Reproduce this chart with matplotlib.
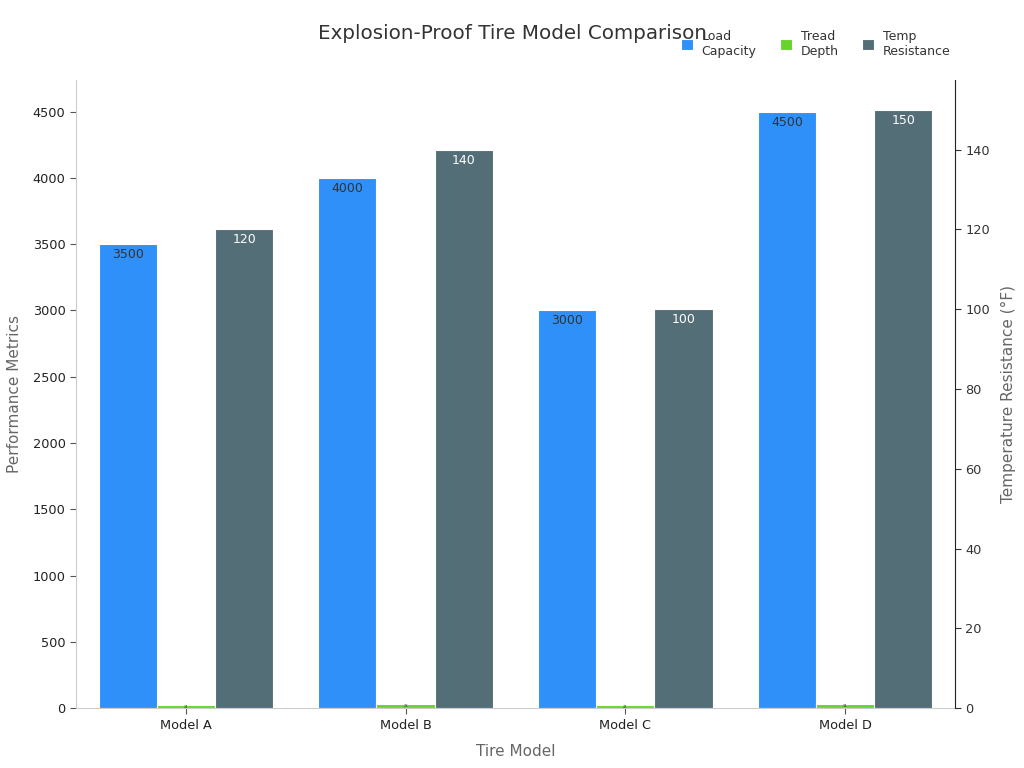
import matplotlib
matplotlib.use("Agg")
import matplotlib.pyplot as plt
import numpy as np

models = ["Model A", "Model B", "Model C", "Model D"]
load_capacity = [3500, 4000, 3000, 4500]
tread_depth = [24, 28, 23, 34]
temp_resistance = [120, 140, 100, 150]

c_blue = "#2E90F8"
c_green = "#66D42C"
c_gray = "#546E78"

fig = plt.figure(figsize=(10.24, 7.68), dpi=100)
ax = fig.add_axes([0.0742, 0.078, 0.8584, 0.818])
ax2 = ax.twinx()

x = np.arange(len(models))
w = 0.265

b1 = ax.bar(x - w, load_capacity, w, color=c_blue, edgecolor="white", linewidth=0.8, label="Load\nCapacity", zorder=2)
b2 = ax.bar(x, tread_depth, w, color=c_green, edgecolor="white", linewidth=0.8, label="Tread\nDepth", zorder=2)
b3 = ax2.bar(x + w, temp_resistance, w, color=c_gray, edgecolor="white", linewidth=0.8, label="Temp\nResistance", zorder=2)

ax.set_xlim(-0.5, 3.5)
ax.set_ylim(0, 4740)
ax2.set_ylim(0, 157.5)
ax.set_yticks(np.arange(0, 4501, 500))
ax2.set_yticks(np.arange(0, 141, 20))
ax.set_xticks(x)
ax.set_xticklabels(models)

for a in (ax, ax2):
    a.tick_params(labelsize=9.3, colors="#333333", length=4)
    a.spines["top"].set_visible(False)
ax.spines["left"].set_color("#CCCCCC")
ax.spines["bottom"].set_color("#CCCCCC")
ax.spines["right"].set_visible(False)
ax2.spines["left"].set_visible(False)
ax2.spines["bottom"].set_visible(False)
ax2.spines["right"].set_color("#222222")
ax.tick_params(axis="x", colors="#555555", labelcolor="#222222")
ax.tick_params(axis="y", colors="#555555", labelcolor="#222222")

ax.set_xlabel("Tire Model", fontsize=11, color="#666666", labelpad=9)
ax.set_ylabel("Performance Metrics", fontsize=11, color="#666666", labelpad=7.5)
ax2.set_ylabel("Temperature Resistance (°F)", fontsize=11, color="#666666", labelpad=7.5)

for rect, v in zip(b1, load_capacity):
    ax.annotate(f"{v}", (rect.get_x() + rect.get_width() / 2, v), xytext=(0, -7.5),
                textcoords="offset points", ha="center", va="center", fontsize=9, color="#333333")
for rect, v in zip(b2, tread_depth):
    ax.annotate(f"{v}", (rect.get_x() + rect.get_width() / 2, v), xytext=(0, -1.5),
                textcoords="offset points", ha="center", va="center", fontsize=2.5, color="#333333")
for rect, v in zip(b3, temp_resistance):
    ax2.annotate(f"{v}", (rect.get_x() + rect.get_width() / 2, v), xytext=(0, -7.5),
                 textcoords="offset points", ha="center", va="center", fontsize=9, color="white")

fig.text(0.5, 0.957, "Explosion-Proof Tire Model Comparison", ha="center", va="center",
         fontsize=14.3, color="#333333")

handles = [b1, b2, b3]
labels = ["Load\nCapacity", "Tread\nDepth", "Temp\nResistance"]
fig.legend(handles, labels, loc="center right", bbox_to_anchor=(0.937, 0.943), ncol=3,
           frameon=False, fontsize=9, handlelength=0.95, handleheight=0.95,
           handletextpad=0.7, columnspacing=1.9, labelcolor="#333333", borderpad=0.2)

fig.savefig("out.png", dpi=100)
